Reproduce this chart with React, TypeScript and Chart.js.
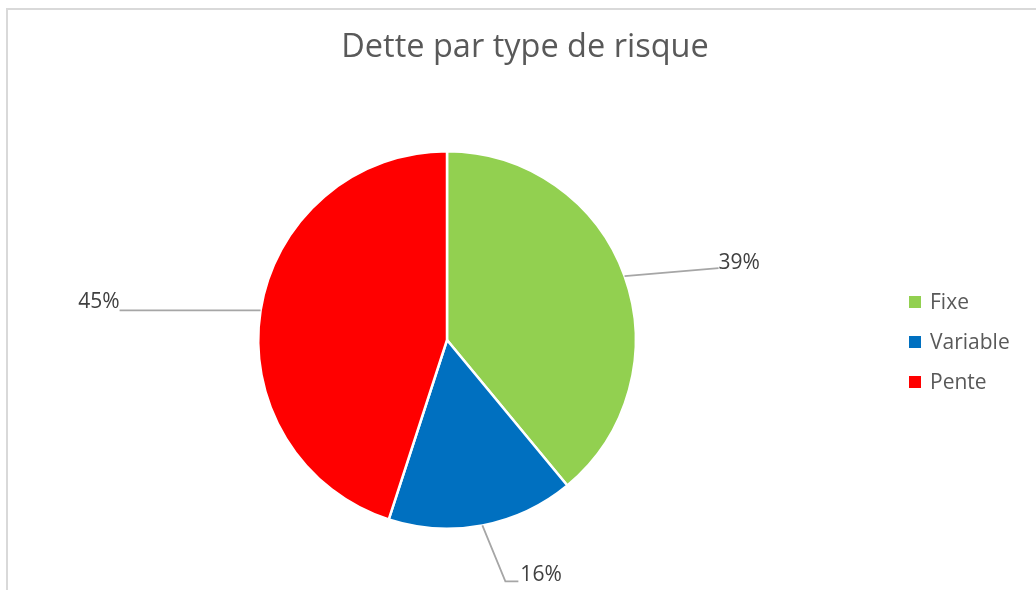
import React, { useEffect, useRef } from "react";
import { Chart, registerables } from "chart.js";

Chart.register(...registerables);

const categories = ["Fixe", "Variable", "Pente"];
const shares = [39, 16, 45];
const sliceColors = ["#92D050", "#0070C0", "#FF0000"];
const chartTitle = "Dette par type de risque";

// leader-line layout: offsets (px) from the slice's outer mid point
const leaderLayout = [
  { path: [[94, -8]], align: "left" as CanvasTextAlign, tdx: 0, tdy: 1 },
  { path: [[23, 56], [36, 56]], align: "left" as CanvasTextAlign, tdx: 2, tdy: 0 },
  { path: [[-141, 0]], align: "right" as CanvasTextAlign, tdx: 0, tdy: -2 },
];

const FONT = "'Open Sans', 'DejaVu Sans', sans-serif";

const decorPlugin = {
  id: "decor",
  afterDraw(chart: any) {
    const ctx: CanvasRenderingContext2D = chart.ctx;
    const meta = chart.getDatasetMeta(0);
    const data = chart.data.datasets[0].data as number[];
    const total = data.reduce((a, b) => a + b, 0);
    ctx.save();
    // title
    ctx.fillStyle = "#595959";
    ctx.font = `32.5px ${FONT}`;
    ctx.textAlign = "center";
    ctx.textBaseline = "alphabetic";
    ctx.fillText(chartTitle, 525, 57);

    // data labels with leader lines
    meta.data.forEach((arc: any, i: number) => {
      const p = arc.getProps(["x", "y", "startAngle", "endAngle", "outerRadius"], true);
      const mid = (p.startAngle + p.endAngle) / 2;
      const sx = p.x + Math.cos(mid) * p.outerRadius;
      const sy = p.y + Math.sin(mid) * p.outerRadius;
      const lay = leaderLayout[i];
      ctx.strokeStyle = "#a6a6a6";
      ctx.lineWidth = 1.8;
      ctx.beginPath();
      ctx.moveTo(sx, sy);
      let ex = sx, ey = sy;
      lay.path.forEach(([dx, dy]) => {
        ex = sx + dx;
        ey = sy + dy;
        ctx.lineTo(ex, ey);
      });
      ctx.stroke();
      ctx.fillStyle = "#404040";
      ctx.font = `21px ${FONT}`;
      ctx.textAlign = lay.align;
      ctx.textBaseline = "alphabetic";
      const pct = Math.round((data[i] / total) * 100) + "%";
      ctx.fillText(pct, ex + lay.tdx, ey + lay.tdy);
    });

    // legend
    const labels = chart.data.labels as string[];
    const colors = chart.data.datasets[0].backgroundColor as string[];
    labels.forEach((lab, i) => {
      const cy = 302 + i * 40;
      ctx.fillStyle = colors[i];
      ctx.fillRect(909, cy - 6, 12, 12);
      ctx.fillStyle = "#595959";
      ctx.font = `21px ${FONT}`;
      ctx.textAlign = "left";
      ctx.textBaseline = "middle";
      ctx.fillText(lab, 930, cy + 1);
    });
    ctx.restore();
  },
};

export default function App() {
  const ref = useRef<HTMLCanvasElement | null>(null);
  useEffect(() => {
    if (!ref.current) return;
    const chart = new Chart(ref.current, {
      type: "pie",
      data: {
        labels: categories,
        datasets: [
          {
            data: shares,
            backgroundColor: sliceColors,
            borderColor: "#ffffff",
            borderWidth: 2.5,
          },
        ],
      },
      options: {
        responsive: false,
        animation: false,
        layout: { padding: { top: 150, bottom: 60, left: 257, right: 399 } },
        plugins: {
          legend: { display: false },
          title: { display: false },
          tooltip: { enabled: false },
        },
      },
      plugins: [decorPlugin],
    });
    return () => chart.destroy();
  }, []);
  return (
    <div style={{ position: "fixed", left: 0, top: 0, width: 1036, height: 590, overflow: "hidden", background: "#fff" }}>
      <div
        style={{
          position: "absolute",
          left: 6,
          top: 8,
          width: 1200,
          height: 800,
          border: "2px solid #d9d9d9",
        }}
      />
      <canvas ref={ref} width={1036} height={590} style={{ position: "absolute", left: 0, top: 0 }} />
    </div>
  );
}
